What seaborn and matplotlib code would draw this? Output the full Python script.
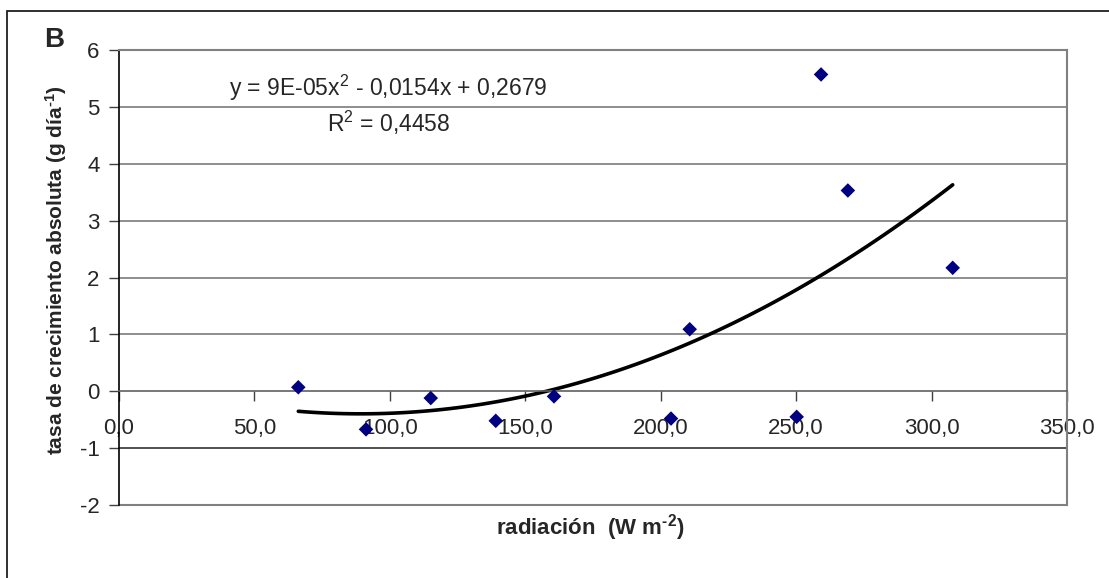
import numpy as np
import pandas as pd
import matplotlib
matplotlib.use("Agg")
import matplotlib.pyplot as plt
import matplotlib.patches as patches
from matplotlib.ticker import FuncFormatter
import seaborn as sns

# ---- data ----
radiacion = [66.2, 91.2, 115.1, 139.1, 160.6, 203.8, 210.7, 250.2, 259.2, 269.1, 307.8]
tasa = [0.07, -0.67, -0.12, -0.52, -0.09, -0.48, 1.09, -0.45, 5.57, 3.53, 2.17]
x_ticks = [0, 50, 100, 150, 200, 250, 300, 350]
y_ticks = [-2, -1, 0, 1, 2, 3, 4, 5, 6]
equation = "y = 9E-05x$^{2}$ - 0,0154x + 0,2679"
r2_text = "R$^{2}$ = 0,4458"
panel = "B"
x_label = "radiación  (W m$^{\\mathbf{\u2010 2}}$)"
y_label = "tasa de crecimiento absoluta (g día$^{\\mathbf{\u2010 1}}$)"

df = pd.DataFrame({"radiacion": radiacion, "tasa": tasa})

sns.set_style("white")
plt.rcParams["font.family"] = ["Liberation Sans", "DejaVu Sans"]
plt.rcParams["mathtext.fontset"] = "custom"
plt.rcParams["mathtext.rm"] = "Liberation Sans"
plt.rcParams["mathtext.it"] = "Liberation Sans"
plt.rcParams["mathtext.bf"] = "Liberation Sans:bold"
plt.rcParams["mathtext.default"] = "regular"

W, H = 1109, 578
fig = plt.figure(figsize=(W / 100, H / 100), dpi=100)
ax = fig.add_axes([119 / W, 1 - 505 / H, (1067 - 119) / W, (505 - 50) / H])

# gridlines
for v in y_ticks[1:]:
    if v == 0:
        continue
    ax.axhline(v, color="#707070" if v != -1 else "#202020", lw=1.1, zorder=0)

# trend line (2nd order polynomial, as in the original)
sns.regplot(data=df, x="radiacion", y="tasa", order=2, ci=None, scatter=False,
            truncate=True, ax=ax, line_kws=dict(color="black", lw=2.6))
# points
sns.scatterplot(data=df, x="radiacion", y="tasa", marker="D", color="#000080",
                s=55, edgecolor="none", ax=ax, zorder=5)

ax.set_xlim(0, 350)
ax.set_ylim(-2, 6)
ax.set_xticks(x_ticks)
ax.set_yticks(y_ticks)
ax.xaxis.set_major_formatter(FuncFormatter(lambda v, p: f"{v:.1f}".replace(".", ",")))
ax.yaxis.set_major_formatter(FuncFormatter(lambda v, p: f"{v:.0f}"))

# spines
ax.spines["bottom"].set_position(("data", 0))
ax.spines["bottom"].set_color("#606060")
ax.spines["bottom"].set_linewidth(1.2)
ax.spines["left"].set_color("black")
ax.spines["left"].set_linewidth(1.2)
for s in ["top", "right"]:
    ax.spines[s].set_color("#808080")
    ax.spines[s].set_linewidth(1.5)
ax.axhline(-2, color="#808080", lw=1.5, clip_on=False, zorder=1)

ax.tick_params(axis="x", direction="out", length=7, width=1, color="#404040",
               pad=12, labelsize=16, bottom=True)
ax.tick_params(axis="y", direction="out", length=7, width=1, color="#404040",
               pad=7, labelsize=16, left=True)

ax.set_xlabel(x_label, fontsize=16, fontweight="bold")
ax.xaxis.set_label_coords(0.497, -0.016)
ax.set_ylabel(y_label, fontsize=15, fontweight="bold")
ax.yaxis.set_label_coords(-0.053, 0.516)

ax.text(0.284, 0.9165, equation, transform=ax.transAxes, ha="center", va="center",
        fontsize=16.5)
ax.text(0.284, 0.8396, r2_text, transform=ax.transAxes, ha="center", va="center",
        fontsize=16.5)

fig.text(54 / W, 1 - 40 / H, panel, ha="center", va="center", fontsize=20,
         fontweight="bold")

# outer chart border
fig.patches.append(patches.Rectangle((7 / W, -0.1), 1.2, 1 - 11 / H + 0.1,
                                     transform=fig.transFigure, fill=False,
                                     edgecolor="#202020", lw=1.3))

fig.savefig("out.png", dpi=100)
